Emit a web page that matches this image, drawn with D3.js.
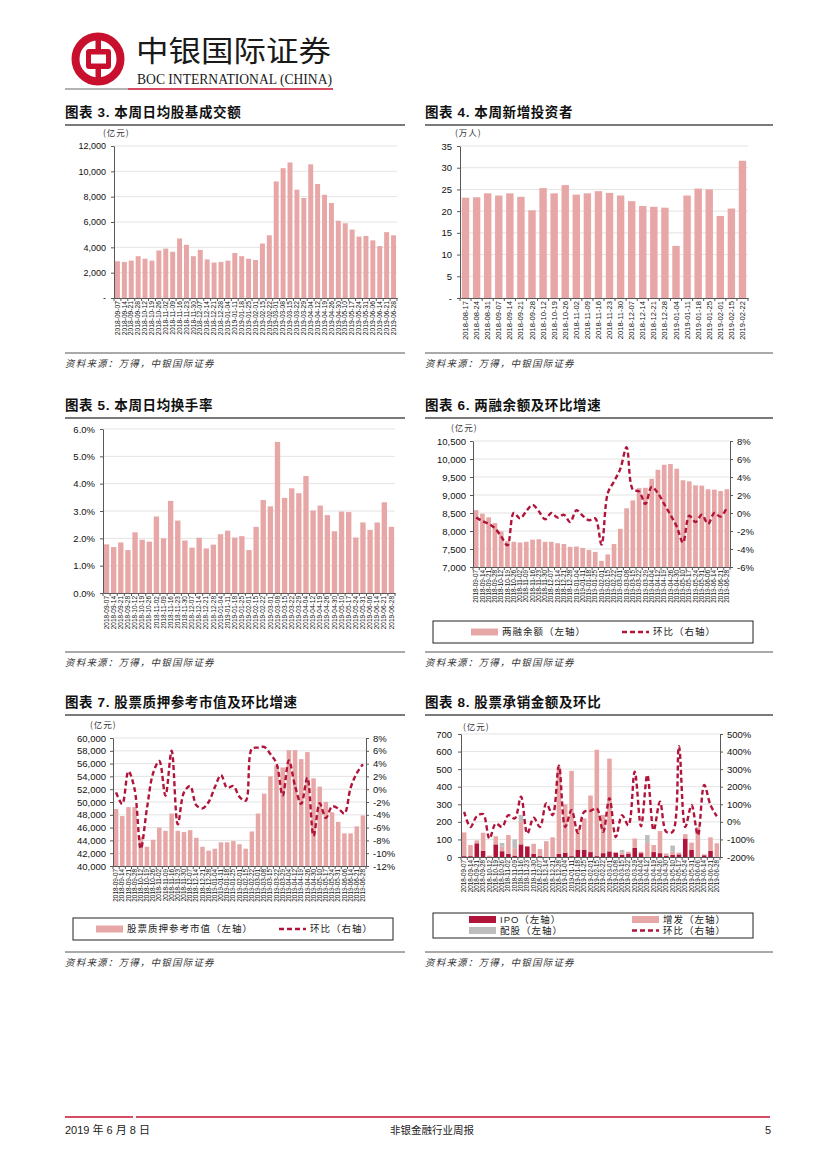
<!DOCTYPE html>
<html><head><meta charset="utf-8">
<script src="https://cdn.jsdelivr.net/npm/d3@7"></script>
<style>body{margin:0;background:#fff}svg{display:block}</style>
</head><body>
<svg id="page" width="827" height="1169"></svg>
<script>
// ---------------- DATA ----------------
const weeks41 = ["2018-09-07","2018-09-14","2018-09-21","2018-09-28","2018-10-12","2018-10-19","2018-10-26","2018-11-02","2018-11-09","2018-11-16","2018-11-23","2018-11-30","2018-12-07","2018-12-14","2018-12-21","2018-12-28","2019-01-04","2019-01-11","2019-01-18","2019-01-25","2019-02-01","2019-02-15","2019-02-22","2019-03-01","2019-03-08","2019-03-15","2019-03-22","2019-03-29","2019-04-04","2019-04-12","2019-04-19","2019-04-26","2019-04-30","2019-05-10","2019-05-17","2019-05-24","2019-05-31","2019-06-06","2019-06-14","2019-06-21","2019-06-28"];
const weeks26 = ["2018-08-17","2018-08-24","2018-08-31","2018-09-07","2018-09-14","2018-09-21","2018-09-28","2018-10-12","2018-10-19","2018-10-26","2018-11-02","2018-11-09","2018-11-16","2018-11-23","2018-11-30","2018-12-07","2018-12-14","2018-12-21","2018-12-28","2019-01-04","2019-01-11","2019-01-18","2019-01-25","2019-02-01","2019-02-15","2019-02-22"];

// 图表3 本周日均股基成交额（亿元）
const dailyTurnover = [2900,2850,2950,3300,3100,2950,3750,3900,3650,4700,4200,3300,3800,3050,2800,2850,2950,3550,3300,3100,3000,4300,4950,9200,10250,10700,8550,7900,10550,9000,8150,7500,6100,5900,5400,4850,4900,4550,4100,5200,4950];
const ticks3 = [0,2000,4000,6000,8000,10000,12000];
// 图表4 本周新增投资者（万人）
const newInvestors = [23.1,23.2,24.1,23.6,24.1,23.3,20.2,25.3,24.1,26.0,23.8,24.1,24.6,24.2,23.6,22.3,21.2,21.0,20.8,12.0,23.6,25.2,25.0,18.9,20.6,31.6];
const ticks4 = [0,5,10,15,20,25,30,35];
// 图表5 本周日均换手率（%）
const turnoverRate = [1.78,1.68,1.85,1.57,2.22,1.95,1.88,2.80,2.00,3.37,2.65,1.92,1.66,2.02,1.63,1.77,2.15,2.28,2.03,2.08,1.57,2.42,3.40,3.17,5.53,3.48,3.83,3.65,4.28,3.02,3.20,2.85,2.26,2.98,2.96,2.03,2.58,2.31,2.58,3.32,2.42];
const ticks5 = [0,1,2,3,4,5,6];
// 图表6 两融余额（亿元）及环比（%）
const marginBalance = [8580,8480,8380,8220,7990,7720,7700,7680,7700,7760,7770,7700,7700,7660,7640,7560,7570,7530,7470,7420,7170,7350,7640,8060,8630,8850,9190,9200,9450,9700,9840,9860,9730,9410,9380,9270,9260,9160,9150,9110,9160];
const marginChg = [-0.5,-0.9,-1.2,-1.7,-2.6,-3.6,0.0,-0.6,0.2,0.9,0.2,-0.7,0.0,-0.5,-0.2,-1.0,0.3,-0.3,-0.8,-0.6,-3.5,2.2,3.5,4.9,7.3,2.6,2.4,1.0,2.9,2.2,1.0,-0.2,-1.5,-3.3,-0.3,-1.0,-0.2,-1.2,0.0,-0.4,0.6];
const ticks6L = [7000,7500,8000,8500,9000,9500,10000,10500];
const ticks6R = [-6,-4,-2,0,2,4,6,8];
// 图表7 股票质押参考市值（亿元）及环比（%）
const pledgeValue = [48900,47800,49200,49200,44600,43000,44100,46000,45500,48200,45500,45300,45600,44400,43000,42400,42700,43700,43700,43900,43400,42700,45400,48200,51300,54000,55700,55400,58100,58100,56700,57800,53700,52400,50000,48400,46900,45100,45100,46200,47900];
const pledgeChg = [-0.5,-2.3,2.8,0.0,-9.3,-3.0,2.5,4.4,-1.0,6.0,-5.5,-0.5,0.5,-2.5,-3.0,-2.0,0.3,2.2,0.2,0.5,-1.2,-1.8,6.3,6.5,6.6,5.5,4.0,-1.0,4.5,0.5,-2.3,1.8,-7.3,-2.2,-4.5,-2.7,-3.0,-3.8,0.2,2.5,3.9];
const ticks7L = [40000,42000,44000,46000,48000,50000,52000,54000,56000,58000,60000];
const ticks7R = [-12,-10,-8,-6,-4,-2,0,2,4,6,8];
// 图表8 股票承销金额（亿元）及环比（%）
const uwIPO    = [5,5,78,35,3,72,33,18,8,72,60,18,5,0,0,18,25,5,42,42,28,5,22,32,25,12,20,52,22,0,28,22,8,12,15,105,40,0,10,35,0];
const uwSPO    = [135,63,17,103,5,46,27,107,42,128,0,57,40,90,112,492,275,485,118,178,322,605,218,528,0,13,10,53,8,80,40,126,12,18,10,25,42,170,5,77,78];
const uwRights = [0,0,0,0,0,0,20,0,50,40,0,0,0,0,0,0,0,0,0,0,0,0,0,0,0,15,0,0,0,45,0,0,0,35,0,0,0,0,0,0,0];
const uwChg    = [57,-29,32,44,-95,-10,-29,38,19,143,-67,23,-29,105,38,319,-29,67,-63,57,63,76,-57,134,-86,38,-19,286,-25,267,-48,115,-57,-57,430,-29,95,-76,210,95,32];
const ticks8L = [0,100,200,300,400,500,600,700];
const ticks8R = [-200,-100,0,100,200,300,400,500];

// ---------------- STYLE ----------------
const PINK = "#E8A7A7", RED = "#B0143A", GRAYB = "#BDBDBD", GRID = "#DCDCDC", AX = "#595959";
const CJK = "'Noto Sans CJK SC','Noto Sans CJK JP',sans-serif";
const LAT = "'Liberation Sans',Arial,'Noto Sans CJK SC',sans-serif";
const svg = d3.select("#page");

// ---------------- HEADER ----------------
const logo = svg.append("g");
logo.append("circle").attr("cx", 98).attr("cy", 59).attr("r", 22.5)
  .attr("fill", "none").attr("stroke", "#C8102E").attr("stroke-width", 8);
logo.append("rect").attr("x", 95.5).attr("y", 34).attr("width", 5.5).attr("height", 50).attr("fill", "#C8102E");
logo.append("rect").attr("x", 86).attr("y", 49).attr("width", 25).attr("height", 20).attr("rx", 3).attr("fill", "#C8102E");
logo.append("rect").attr("x", 91).attr("y", 54.5).attr("width", 15).attr("height", 9).attr("fill", "#fff");
svg.append("text").attr("x", 136).attr("y", 62).text("中银国际证券")
  .style("font-family", CJK).style("font-size", "29px").style("fill", "#1a1a1a")
  .attr("textLength", 195).attr("lengthAdjust", "spacingAndGlyphs");
svg.append("text").attr("x", 137).attr("y", 84).text("BOC INTERNATIONAL (CHINA)")
  .style("font-family", "'Liberation Serif','DejaVu Serif',serif").style("font-size", "14px").style("fill", "#1a1a1a")
  .attr("textLength", 195).attr("lengthAdjust", "spacingAndGlyphs");
svg.append("line").attr("x1", 65).attr("x2", 128).attr("y1", 89).attr("y2", 89).attr("stroke", "#9a9a9a").attr("stroke-width", 1.5);
svg.append("line").attr("x1", 128).attr("x2", 333).attr("y1", 89).attr("y2", 89).attr("stroke", "#C8102E").attr("stroke-width", 1.5);

// ---------------- FOOTER ----------------
svg.append("line").attr("x1", 65).attr("x2", 133).attr("y1", 1117).attr("y2", 1117).attr("stroke", "#C8102E").attr("stroke-width", 1.5);
svg.append("line").attr("x1", 136).attr("x2", 770).attr("y1", 1117).attr("y2", 1117).attr("stroke", "#C8102E").attr("stroke-width", 1.5);
svg.append("text").attr("x", 65).attr("y", 1134).text("2019 年 6 月 8 日")
  .style("font-family", LAT).style("font-size", "11px").style("fill", "#222");
svg.append("text").attr("x", 432).attr("y", 1134).attr("text-anchor", "middle").text("非银金融行业周报")
  .style("font-family", CJK).style("font-size", "10.5px").style("fill", "#222");
svg.append("text").attr("x", 771).attr("y", 1134).attr("text-anchor", "end").text("5")
  .style("font-family", LAT).style("font-size", "11px").style("fill", "#222");

// ---------------- HELPERS ----------------
function panelTitle(x, y, w, txt) {
  svg.append("text").attr("x", x).attr("y", y).text(txt)
    .style("font-family", LAT).style("font-weight", "bold").style("font-size", "13.5px").style("fill", "#111")
    .style("letter-spacing", "0.6px");
  svg.append("line").attr("x1", x).attr("x2", x + w).attr("y1", y + 8).attr("y2", y + 8)
    .attr("stroke", "#7a7a7a").attr("stroke-width", 2);
}
function source(x, y, w) {
  svg.append("line").attr("x1", x).attr("x2", x + w).attr("y1", y).attr("y2", y)
    .attr("stroke", "#555").attr("stroke-width", 1);
  svg.append("text").attr("x", x).attr("y", y + 14).text("资料来源：万得，中银国际证券")
    .style("font-family", CJK).style("font-style", "italic").style("font-size", "9.5px").style("fill", "#333")
    .style("letter-spacing", "1.2px");
}
function unit(x, y, t) {
  svg.append("text").attr("x", x).attr("y", y).text(t)
    .style("font-family", CJK).style("font-size", "8.5px").style("fill", "#333").style("letter-spacing", "1px");
}
function styleAxis(g, fs) {
  g.selectAll("path.domain").attr("stroke", AX).attr("stroke-width", 1);
  g.selectAll(".tick line").attr("stroke", AX);
  g.selectAll("text").style("font-family", LAT).style("font-size", fs).style("fill", "#111");
}
// frame: bar-chart axes, grid and labels; returns scales
function frame(o) {
  const g = svg.append("g");
  const x = d3.scaleBand().domain(o.cats).range([o.L, o.R]).paddingInner(o.pad).paddingOuter(o.pad / 2);
  const y = d3.scaleLinear().domain(o.dom).range([o.B, o.T]);
  g.append("g").selectAll("line").data(o.ticks.slice(1)).join("line")
    .attr("x1", o.L).attr("x2", o.R).attr("y1", d => y(d)).attr("y2", d => y(d))
    .attr("stroke", GRID).attr("stroke-width", 0.8);
  const layer = g.append("g");
  const ya = g.append("g").attr("transform", `translate(${o.L},0)`)
    .call(d3.axisLeft(y).tickValues(o.ticks).tickFormat(o.fmt).tickSizeInner(3).tickSizeOuter(0).tickPadding(o.lpad || 5));
  styleAxis(ya, o.yfs || "9.5px");
  const xa = g.append("g").attr("transform", `translate(0,${o.B})`)
    .call(d3.axisBottom(x).tickSizeInner(0).tickSizeOuter(0));
  styleAxis(xa, o.xfs);
  xa.selectAll(".tick text").attr("transform", "rotate(-90)").attr("x", -3).attr("y", 0).attr("dy", "0.33em")
    .style("text-anchor", "end");
  xa.append("g").selectAll("line").data(d3.range(o.cats.length + 1)).join("line")
    .attr("x1", i => o.L + i * (o.R - o.L) / o.cats.length).attr("x2", i => o.L + i * (o.R - o.L) / o.cats.length)
    .attr("y1", 0).attr("y2", 3).attr("stroke", AX);
  return { g, layer, x, y };
}
function rightAxis(o) {
  const y = d3.scaleLinear().domain(o.dom).range([o.B, o.T]);
  const ra = svg.append("g").attr("transform", `translate(${o.R},0)`)
    .call(d3.axisRight(y).tickValues(o.ticks).tickFormat(o.fmt).tickSizeInner(3).tickSizeOuter(0).tickPadding(4));
  styleAxis(ra, "9.5px");
  return y;
}
function dashLine(f, yR, vals, cats) {
  const line = d3.line().x((d, i) => f.x(cats[i]) + f.x.bandwidth() / 2).y(d => yR(d))
    .curve(d3.curveCatmullRom.alpha(0.5));
  svg.append("path").datum(vals).attr("d", line).attr("fill", "none")
    .attr("stroke", RED).attr("stroke-width", 2.4).attr("stroke-dasharray", "5,3");
}
function legendBox(x, y, w, h) {
  svg.append("rect").attr("x", x).attr("y", y).attr("width", w).attr("height", h)
    .attr("fill", "#fff").attr("stroke", "#222").attr("stroke-width", 1);
}
function legendItem(kind, color, x, y, label) {
  if (kind === "rect") {
    svg.append("rect").attr("x", x).attr("y", y - 3.5).attr("width", 27).attr("height", 7).attr("fill", color);
  } else {
    svg.append("line").attr("x1", x).attr("x2", x + 27).attr("y1", y).attr("y2", y)
      .attr("stroke", color).attr("stroke-width", 2.4).attr("stroke-dasharray", "5,3");
  }
  svg.append("text").attr("x", x + 31).attr("y", y).attr("dy", "0.35em").text(label)
    .style("font-family", LAT).style("font-size", "9.5px").style("fill", "#222").style("letter-spacing", "1px");
}
const fmtThousands = d => d === 0 ? "-" : d3.format(",")(d);
const fmtInt = d => d === 0 ? "-" : String(d);
const fmtPct1 = d => d.toFixed(1) + "%";
const fmtPct0 = d => d + "%";
const fmtComma = d3.format(",");

// ---------------- 图表3 ----------------
panelTitle(65, 117, 340, "图表 3. 本周日均股基成交额");
unit(103, 136, "(亿元)");
{
  const f = frame({ cats: weeks41, L: 114, R: 397, T: 146, B: 298, dom: [0, 12000], ticks: ticks3, fmt: fmtThousands, pad: 0.28, xfs: "6.7px", yfs: "9px" });
  f.layer.selectAll("rect").data(dailyTurnover).join("rect")
    .attr("x", (d, i) => f.x(weeks41[i])).attr("width", f.x.bandwidth())
    .attr("y", d => f.y(d)).attr("height", d => f.y(0) - f.y(d)).attr("fill", PINK);
}
source(65, 353, 340);

// ---------------- 图表4 ----------------
panelTitle(425, 117, 348, "图表 4. 本周新增投资者");
unit(455, 136, "(万人)");
{
  const f = frame({ cats: weeks26, L: 460, R: 748, T: 146, B: 298, dom: [0, 35], ticks: ticks4, fmt: fmtInt, pad: 0.33, xfs: "7.6px", yfs: "9.5px" });
  f.layer.selectAll("rect").data(newInvestors).join("rect")
    .attr("x", (d, i) => f.x(weeks26[i])).attr("width", f.x.bandwidth())
    .attr("y", d => f.y(d)).attr("height", d => f.y(0) - f.y(d)).attr("fill", PINK);
}
source(425, 353, 348);

// ---------------- 图表5 ----------------
panelTitle(65, 410, 340, "图表 5. 本周日均换手率");
{
  const f = frame({ cats: weeks41, L: 103, R: 395, T: 429, B: 593, dom: [0, 6], ticks: ticks5, fmt: fmtPct1, pad: 0.25, xfs: "6.5px", yfs: "9.5px" });
  f.layer.selectAll("rect").data(turnoverRate).join("rect")
    .attr("x", (d, i) => f.x(weeks41[i])).attr("width", f.x.bandwidth())
    .attr("y", d => f.y(d)).attr("height", d => f.y(0) - f.y(d)).attr("fill", PINK);
}
source(65, 652, 340);

// ---------------- 图表6 ----------------
panelTitle(425, 410, 348, "图表 6. 两融余额及环比增速");
unit(451, 431, "(亿元)");
{
  const f = frame({ cats: weeks41, L: 473, R: 730, T: 441, B: 567, dom: [7000, 10500], ticks: ticks6L, fmt: fmtComma, pad: 0.25, xfs: "6.4px", yfs: "9.5px", lpad: 4 });
  f.layer.selectAll("rect").data(marginBalance).join("rect")
    .attr("x", (d, i) => f.x(weeks41[i])).attr("width", f.x.bandwidth())
    .attr("y", d => f.y(d)).attr("height", d => f.y(7000) - f.y(d)).attr("fill", PINK);
  const yR = rightAxis({ R: 730, T: 441, B: 567, dom: [-6, 8], ticks: ticks6R, fmt: fmtPct0 });
  dashLine(f, yR, marginChg, weeks41);
}
legendBox(433, 621, 320, 22);
legendItem("rect", PINK, 471, 632, "两融余额（左轴）");
legendItem("line", RED, 622, 632, "环比（右轴）");
source(425, 652, 348);

// ---------------- 图表7 ----------------
panelTitle(65, 707, 340, "图表 7. 股票质押参考市值及环比增速");
unit(90, 728, "(亿元)");
{
  const f = frame({ cats: weeks41, L: 113, R: 366, T: 738, B: 866, dom: [40000, 60000], ticks: ticks7L, fmt: fmtComma, pad: 0.27, xfs: "6.4px", yfs: "9.5px", lpad: 4 });
  f.layer.selectAll("rect").data(pledgeValue).join("rect")
    .attr("x", (d, i) => f.x(weeks41[i])).attr("width", f.x.bandwidth())
    .attr("y", d => f.y(d)).attr("height", d => f.y(40000) - f.y(d)).attr("fill", PINK);
  const yR = rightAxis({ R: 366, T: 738, B: 866, dom: [-12, 8], ticks: ticks7R, fmt: fmtPct0 });
  dashLine(f, yR, pledgeChg, weeks41);
}
legendBox(73, 918, 320, 22);
legendItem("rect", PINK, 96, 929, "股票质押参考市值（左轴）");
legendItem("line", RED, 279, 929, "环比（右轴）");
source(65, 952, 340);

// ---------------- 图表8 ----------------
panelTitle(425, 707, 348, "图表 8. 股票承销金额及环比");
unit(463, 730, "(亿元)");
{
  const f = frame({ cats: weeks41, L: 461, R: 720, T: 734, B: 857, dom: [0, 700], ticks: ticks8L, fmt: d => String(d), pad: 0.28, xfs: "6.3px", yfs: "9.5px", lpad: 6 });
  const rows = weeks41.map((c, i) => ({ c, ipo: uwIPO[i], spo: uwSPO[i], rights: uwRights[i] }));
  const stack = d3.stack().keys(["ipo", "spo", "rights"])(rows);
  const colors = { ipo: RED, spo: PINK, rights: GRAYB };
  f.layer.selectAll("g").data(stack).join("g").attr("fill", s => colors[s.key])
    .selectAll("rect").data(s => s).join("rect")
    .attr("x", d => f.x(d.data.c)).attr("width", f.x.bandwidth())
    .attr("y", d => f.y(d[1])).attr("height", d => f.y(d[0]) - f.y(d[1]));
  const yR = rightAxis({ R: 720, T: 734, B: 857, dom: [-200, 500], ticks: ticks8R, fmt: fmtPct0 });
  dashLine(f, yR, uwChg, weeks41);
}
legendBox(433, 913, 320, 25);
legendItem("rect", RED, 469, 919.5, "IPO（左轴）");
legendItem("rect", PINK, 632, 919.5, "增发（左轴）");
legendItem("rect", GRAYB, 469, 930.5, "配股（左轴）");
legendItem("line", RED, 632, 930.5, "环比（右轴）");
source(425, 952, 348);
</script>
</body></html>
